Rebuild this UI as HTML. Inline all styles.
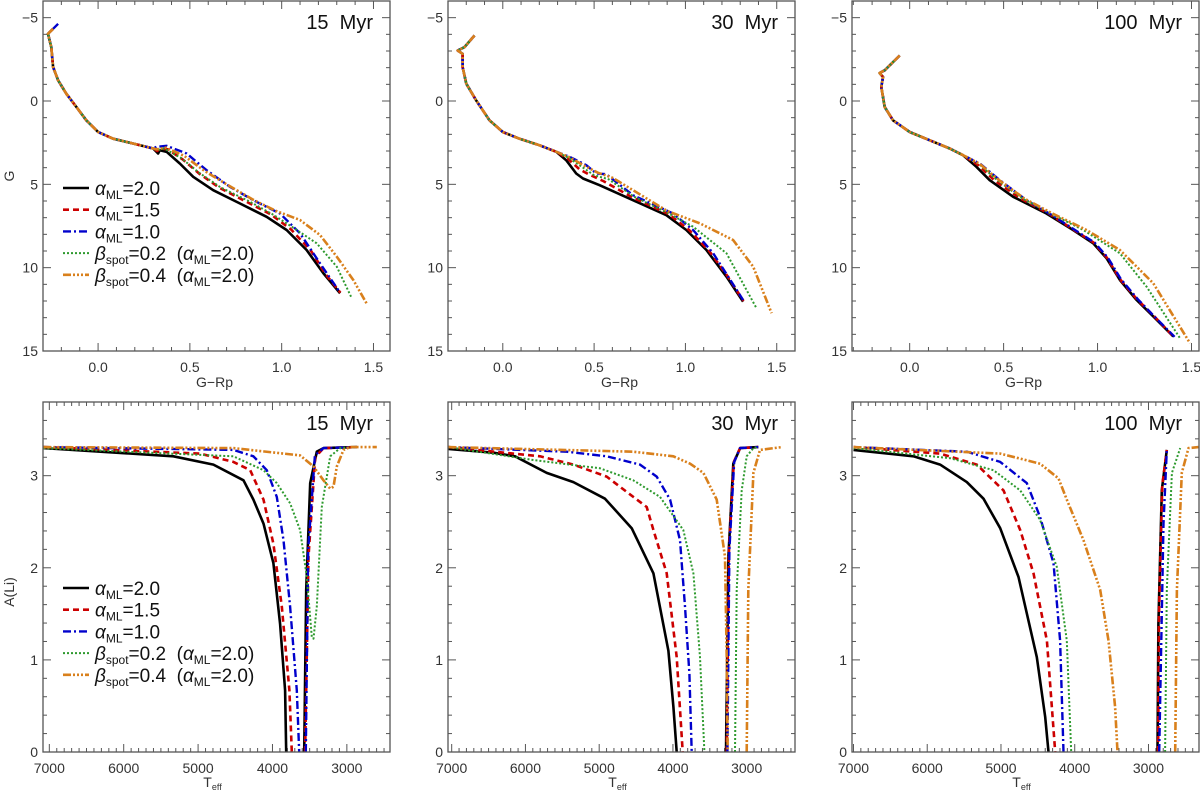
<!DOCTYPE html>
<html><head><meta charset="utf-8"><style>
html,body{margin:0;padding:0;background:#fff;}
svg{display:block;font-family:"Liberation Sans","DejaVu Sans",sans-serif;}
text{white-space:pre;}
</style></head><body>
<svg id="fig" width="1200" height="791" viewBox="0 0 1200 791"></svg>
<script>
// ---------- data ----------
const seriesNames = ["a20","a15","a10","b02","b04"];
const ageLabels = ["15  Myr","30  Myr","100  Myr"];
const cmdXTicks = [0.0,0.5,1.0,1.5];
const cmdYTicks = [-5,0,5,10,15];
const liXTicks = [7000,6000,5000,4000,3000];
const liYTicks = [0,1,2,3];

// CMD 15 Myr [G-Rp, G]
const cmd15_top = [[-0.245,-4.33],[-0.273,-4.03],[-0.255,-3.23],[-0.245,-2.04],[-0.218,-1.24],[-0.173,-0.44],[-0.118,0.36],[-0.064,1.16],[0,1.86],[0.082,2.26],[0.19,2.55],[0.3,2.85]];
const cmd15_a20 = [[0.327,3.15],[0.336,2.95],[0.373,3.05],[0.445,3.75],[0.518,4.55],[0.627,5.35],[0.773,6.15],[0.918,6.95],[1.027,7.74],[1.136,8.94],[1.227,10.34],[1.318,11.54]];
const cmd15_a15 = [[0.322,3.0],[0.34,2.85],[0.38,2.9],[0.46,3.5],[0.55,4.35],[0.66,5.2],[0.8,6.0],[0.94,6.8],[1.05,7.7],[1.16,9.0],[1.24,10.4],[1.32,11.5]];
const cmd15_a10 = [[0.318,2.75],[0.373,2.69],[0.482,3.15],[0.591,4.15],[0.718,5.15],[0.845,5.95],[0.991,6.75],[1.1,7.94],[1.209,9.74],[1.318,11.5]];
const cmd15_b02 = [[0.322,2.95],[0.36,2.85],[0.45,3.4],[0.55,4.3],[0.67,5.2],[0.82,6.0],[0.95,6.8],[1.027,7.34],[1.191,8.54],[1.3,9.94],[1.382,11.84]];
const cmd15_b04 = [[0.32,2.9],[0.37,2.8],[0.47,3.3],[0.58,4.2],[0.7,5.0],[0.84,5.9],[0.97,6.6],[1.1,7.14],[1.209,8.04],[1.3,9.34],[1.39,10.74],[1.464,12.18]];
// CMD 30 Myr
const cmd30_top = [[-0.155,-3.93],[-0.21,-3.23],[-0.247,-3.03],[-0.22,-2.83],[-0.22,-2.04],[-0.2,-1.04],[-0.146,-0.04],[-0.073,1.16],[0,1.86],[0.091,2.26],[0.2,2.65],[0.293,3.05]];
const cmd30_a20 = [[0.347,3.55],[0.402,4.35],[0.439,4.65],[0.53,5.05],[0.713,5.95],[0.896,6.85],[1.005,7.74],[1.115,8.94],[1.225,10.54],[1.316,12.04]];
const cmd30_a15 = [[0.355,3.45],[0.42,4.1],[0.47,4.4],[0.55,4.8],[0.713,5.8],[0.91,6.8],[1.02,7.74],[1.13,9.0],[1.23,10.5],[1.318,12.0]];
const cmd30_a10 = [[0.366,3.35],[0.457,3.85],[0.512,4.35],[0.567,4.39],[0.713,5.65],[0.932,6.75],[1.042,7.74],[1.152,9.14],[1.316,11.94]];
const cmd30_b02 = [[0.36,3.4],[0.44,4.0],[0.5,4.45],[0.58,4.7],[0.72,5.75],[0.9,6.7],[1.042,7.54],[1.225,9.14],[1.389,12.43]];
const cmd30_b04 = [[0.36,3.35],[0.45,3.9],[0.52,4.3],[0.6,4.6],[0.75,5.6],[0.9,6.6],[1.079,7.34],[1.261,8.34],[1.371,9.94],[1.472,12.73]];
// CMD 100 Myr
const cmd100_top = [[-0.053,-2.73],[-0.133,-1.84],[-0.16,-1.68],[-0.142,-1.44],[-0.151,-0.84],[-0.133,0.36],[-0.089,1.16],[0,1.86],[0.107,2.36],[0.213,2.85],[0.284,3.25]];
const cmd100_a20 = [[0.355,3.95],[0.426,4.75],[0.551,5.75],[0.728,6.75],[0.87,7.74],[0.977,8.54],[1.048,9.44],[1.119,10.74],[1.208,11.94],[1.297,12.93],[1.403,14.13]];
const cmd100_a15 = [[0.365,3.85],[0.45,4.75],[0.59,5.85],[0.74,6.75],[0.875,7.74],[0.98,8.5],[1.05,9.4],[1.12,10.7],[1.21,11.9],[1.3,12.9],[1.405,14.15]];
const cmd100_a10 = [[0.373,3.75],[0.48,4.75],[0.622,5.95],[0.75,6.8],[0.88,7.74],[0.985,8.5],[1.055,9.4],[1.125,10.7],[1.215,11.9],[1.3,12.9],[1.41,14.15]];
const cmd100_b02 = [[0.37,3.8],[0.46,4.7],[0.6,5.85],[0.75,6.75],[0.924,7.74],[1.119,9.14],[1.261,11.14],[1.439,14.23]];
const cmd100_b04 = [[0.37,3.75],[0.47,4.7],[0.61,5.85],[0.76,6.75],[0.941,7.74],[1.119,8.94],[1.297,10.94],[1.492,14.53]];

// Li 15 Myr [Teff, A(Li)]
const li15_a20 = [[7080,3.3],[5332,3.21],[4794,3.12],[4390,2.95],[4256,2.74],[4121,2.48],[3987,2.05],[3897,1.39],[3830,0.67],[3816,0],[3574,0],[3547,1.76],[3493,2.92],[3404,3.26],[3314,3.3],[2866,3.31]];
const li15_a15 = [[7080,3.31],[4973,3.24],[4525,3.15],[4300,3.06],[4121,2.74],[3987,2.26],[3875,1.58],[3772,0.67],[3740,0],[3561,0],[3516,2.12],[3426,3.2],[3314,3.3],[2866,3.31]];
const li15_a10 = [[7080,3.31],[4525,3.28],[4256,3.21],[4076,3.06],[3942,2.77],[3852,2.3],[3763,1.58],[3673,0.67],[3641,0],[3552,0],[3520,2.2],[3430,3.22],[3314,3.3],[2866,3.31]];
const li15_b02 = [[7080,3.3],[4525,3.21],[4121,3.06],[3942,2.92],[3763,2.7],[3628,2.41],[3539,1.9],[3471,1.25],[3449,1.23],[3404,1.58],[3337,2.66],[3224,3.21],[3090,3.3],[2866,3.31]];
const li15_b04 = [[7080,3.31],[4525,3.3],[3628,3.22],[3449,3.1],[3314,2.95],[3224,2.86],[3180,2.88],[3135,3.1],[3045,3.28],[2955,3.31],[2597,3.31]];
// Li 30 Myr
const li30_a20 = [[7045,3.29],[6435,3.25],[6141,3.21],[5712,3.03],[5350,2.93],[4921,2.75],[4559,2.43],[4265,1.94],[4062,1.1],[3994,0.49],[3949,0],[3280,0],[3248,2.12],[3181,3.13],[3090,3.3],[2842,3.31]];
const li30_a15 = [[7045,3.31],[5802,3.21],[5350,3.12],[4898,2.99],[4537,2.77],[4356,2.66],[4265,2.41],[4085,1.94],[3949,1.03],[3868,0],[3271,0],[3240,2.2],[3175,3.15],[3090,3.3],[2842,3.31]];
const li30_a10 = [[7045,3.31],[5441,3.26],[4898,3.21],[4446,3.12],[4220,2.99],[4039,2.74],[3904,2.3],[3836,1.58],[3777,0.85],[3746,0],[3262,0],[3235,2.2],[3170,3.15],[3090,3.3],[2842,3.31]];
const li30_b02 = [[7045,3.31],[5893,3.17],[4989,3.08],[4537,2.95],[4175,2.77],[3859,2.41],[3723,1.94],[3633,1.03],[3574,0],[3158,0],[3135,1.76],[3068,2.84],[3000,3.21],[2909,3.3],[2842,3.31]];
const li30_b04 = [[7045,3.31],[4537,3.26],[3994,3.21],[3768,3.13],[3587,3.03],[3407,2.74],[3294,2.12],[3271,1.03],[3258,0],[3000,0],[2978,1.76],[2909,3.03],[2819,3.28],[2525,3.31]];
// Li 100 Myr
const li100_a20 = [[7000,3.28],[6186,3.21],[5825,3.12],[5463,2.93],[5237,2.75],[5011,2.43],[4763,1.9],[4514,1.03],[4401,0.38],[4356,0],[2878,0],[2865,1.39],[2819,2.84],[2751,3.28]];
const li100_a15 = [[7000,3.31],[5825,3.24],[5328,3.12],[4966,2.84],[4740,2.41],[4559,1.94],[4378,1.21],[4265,0],[2870,0],[2858,1.5],[2812,2.9],[2751,3.28]];
const li100_a10 = [[7000,3.31],[5463,3.26],[5011,3.15],[4650,2.92],[4469,2.55],[4288,2.05],[4198,1.21],[4152,0],[2855,0],[2796,2.48],[2751,3.28]];
const li100_b02 = [[7000,3.3],[5689,3.19],[5102,3.06],[4740,2.84],[4469,2.52],[4243,2.01],[4107,1.21],[4048,0],[2774,0],[2751,1.76],[2683,3.03],[2570,3.3]];
const li100_b04 = [[7000,3.31],[5011,3.24],[4469,3.13],[4220,2.97],[4107,2.74],[3881,2.3],[3655,1.76],[3542,1.21],[3452,0.49],[3420,0],[2638,0],[2615,1.76],[2548,3.03],[2457,3.3],[2322,3.31]];

// ---------- drawing ----------
const NS = "http://www.w3.org/2000/svg";
const svg = document.getElementById("fig");
const styles = {
  a20:{c:"#000000",w:2.6,d:""},
  a15:{c:"#cc0000",w:2.6,d:"6,4"},
  a10:{c:"#0000cc",w:2.4,d:"8,3,2,3"},
  b02:{c:"#2e9a2e",w:2,d:"2,2"},
  b04:{c:"#d9801c",w:2.6,d:"8,2,2,2,2,2,2,2"}
};
function mk(tag, attrs, parent){
  const e = document.createElementNS(NS, tag);
  for (const k in attrs) e.setAttribute(k, attrs[k]);
  (parent||svg).appendChild(e);
  return e;
}
function scale(d0,d1,r0,r1){ return v => r0 + (v-d0)/(d1-d0)*(r1-r0); }

function panel(p){
  const g = mk("g",{});
  
  
  const sx = scale(p.xd[0],p.xd[1],p.L,p.R);
  const sy = scale(p.yd[0],p.yd[1],p.B,p.T);
  const tg = mk("g",{stroke:"#555","stroke-width":1},g);
  
  
  const xmin=Math.min(...p.xd), xmax=Math.max(...p.xd);
  for (let v=Math.ceil(xmin/p.xminor)*p.xminor; v<=xmax+1e-9; v+=p.xminor){
    const isMaj = Math.abs(v/p.xmajor - Math.round(v/p.xmajor))<1e-6;
    const len = isMaj?8:4, x=sx(v);
    mk("line",{x1:x,x2:x,y1:p.B,y2:p.B-len},tg);
    mk("line",{x1:x,x2:x,y1:p.T,y2:p.T+len},tg);
  }
  const ymin=Math.min(...p.yd), ymax=Math.max(...p.yd);
  for (let v=Math.ceil(ymin/p.yminor-1e-9)*p.yminor; v<=ymax+1e-9; v+=p.yminor){
    const isMaj = Math.abs(v/p.ymajor - Math.round(v/p.ymajor))<1e-6;
    const len = isMaj?8:4, y=sy(v);
    mk("line",{x1:p.L,x2:p.L+len,y1:y,y2:y},tg);
    mk("line",{x1:p.R,x2:p.R-len,y1:y,y2:y},tg);
  }
  p.xticks.forEach(v=>{
    const t = mk("text",{x:sx(v),y:p.B+21,"text-anchor":"middle","font-size":14,fill:"#333"},g);
    
    
    t.textContent = p.xfmt(v);
  });
  p.yticks.forEach(v=>{
    const t = mk("text",{x:p.L-5,y:sy(v)+5,"text-anchor":"end","font-size":14,fill:"#333"},g);
    
    
    t.textContent = p.yfmt(v);
  });
  const cid = "clip"+p.name;
  const cp = mk("clipPath",{id:cid},g);
  mk("rect",{x:p.L,y:p.T,width:p.R-p.L,height:p.B-p.T},cp);
  const lg = mk("g",{"clip-path":"url(#"+cid+")"},g);
  
  
  seriesNames.forEach((s,i)=>{
    const pts = p.series[i];
    const st = styles[s];
    let d = "";
    pts.forEach((q,k)=>{
      const brk = k>0 && q[1]===0 && pts[k-1][1]===0;
      d += (k===0||brk?"M":"L") + sx(q[0]).toFixed(1)+","+sy(q[1]).toFixed(1)+" ";
    });
    const pl = mk("path",{d:d,fill:"none",stroke:st.c,"stroke-width":st.w,"stroke-dasharray":st.d,"stroke-linejoin":"round"},lg);
    
    
  });
  const fr = mk("rect",{x:p.L,y:p.T,width:p.R-p.L,height:p.B-p.T,fill:"none",stroke:"#555","stroke-width":1.3},g);
  
  
  const al = mk("text",{x:p.R-17,y:p.T+28,"text-anchor":"end","font-size":20,fill:"#111"},g);
  
  
  al.textContent = p.age;
  return g;
}

function legend(x, y0){
  const g = mk("g",{});
  
  
  const labels = [
    ['α','ML','=2.0',''],['α','ML','=1.5',''],['α','ML','=1.0',''],
    ['β','spot','=0.2  (','α','ML','=2.0)'],['β','spot','=0.4  (','α','ML','=2.0)']
  ];
  seriesNames.forEach((s,i)=>{
    const y = y0 + i*21.7;
    const st = styles[s];
    const ent = mk("g",{},g);
    
    
    mk("line",{x1:x,x2:x+26,y1:y,y2:y,stroke:st.c,"stroke-width":st.w,"stroke-dasharray":st.d},ent);
    const t = mk("text",{x:x+32,y:y+7,"font-size":19,fill:"#111"},ent);
    const L = labels[i];
    const a = mk("tspan",{"font-style":"italic"},t); a.textContent=L[0];
    const b = mk("tspan",{"font-size":12,dy:4},t); b.textContent=L[1];
    const c = mk("tspan",{dy:-4},t); c.textContent=L[2];
    if (L.length>4){
      const d = mk("tspan",{"font-style":"italic"},t); d.textContent=L[3];
      const e = mk("tspan",{"font-size":12,dy:4},t); e.textContent=L[4];
      const f = mk("tspan",{dy:-4},t); f.textContent=L[5];
    }
  });
}

const topPanels = [
  {L:43,R:390,xd:[-0.30,1.59],series:[cmd15_top.concat(cmd15_a20),cmd15_top.concat(cmd15_a15),[[-0.218,-4.63]].concat(cmd15_top,cmd15_a10),cmd15_top.concat(cmd15_b02),cmd15_top.concat(cmd15_b04)]},
  {L:448,R:795,xd:[-0.30,1.60],series:[cmd30_top.concat(cmd30_a20),cmd30_top.concat(cmd30_a15),cmd30_top.concat(cmd30_a10),cmd30_top.concat(cmd30_b02),cmd30_top.concat(cmd30_b04)]},
  {L:852,R:1199,xd:[-0.307,1.54],series:[cmd100_top.concat(cmd100_a20),cmd100_top.concat(cmd100_a15),cmd100_top.concat(cmd100_a10),cmd100_top.concat(cmd100_b02),cmd100_top.concat(cmd100_b04)]}
];
topPanels.forEach((q,i)=>{
  panel({name:"cmd-panel-"+(i+1),L:q.L,R:q.R,T:1,B:351,xd:q.xd,yd:[15,-6],
    xminor:0.1,xmajor:0.5,yminor:1,ymajor:5,xticks:cmdXTicks,yticks:cmdYTicks,
    xfmt:v=>v.toFixed(1),yfmt:v=>(v<0?"−"+(-v):String(v)),series:q.series,age:ageLabels[i]});
  const xt = mk("text",{x:(q.L+q.R)/2-2,y:387,"text-anchor":"middle","font-size":14,fill:"#333"});
  
  
  xt.textContent = "G−Rp";
});
const botPanels = [
  {L:43,R:390,xd:[7085,2420],series:[li15_a20,li15_a15,li15_a10,li15_b02,li15_b04]},
  {L:448,R:795,xd:[7050,2345],series:[li30_a20,li30_a15,li30_a10,li30_b02,li30_b04]},
  {L:852,R:1199,xd:[7020,2315],series:[li100_a20,li100_a15,li100_a10,li100_b02,li100_b04]}
];
botPanels.forEach((q,i)=>{
  panel({name:"li-panel-"+(i+1),L:q.L,R:q.R,T:402,B:752,xd:q.xd,yd:[0,3.8],
    xminor:100,xmajor:1000,yminor:0.2,ymajor:1,xticks:liXTicks,yticks:liYTicks,
    xfmt:v=>String(v),yfmt:v=>String(v),series:q.series,age:ageLabels[i]});
  const xt = mk("text",{x:(q.L+q.R)/2-4,y:787,"text-anchor":"middle","font-size":14,fill:"#333"});
  
  
  const a = mk("tspan",{},xt); a.textContent="T";
  const b = mk("tspan",{"font-size":9,dy:3},xt); b.textContent="eff";
});
const yt1 = mk("text",{x:14,y:176,"text-anchor":"middle","font-size":14,fill:"#333",transform:"rotate(-90 14 176)"});


yt1.textContent = "G";
const yt2 = mk("text",{x:14,y:592,"text-anchor":"middle","font-size":14,fill:"#333",transform:"rotate(-90 14 592)"});


yt2.textContent = "A(Li)";
legend(63,188);
legend(63,588);
</script>
</body></html>
